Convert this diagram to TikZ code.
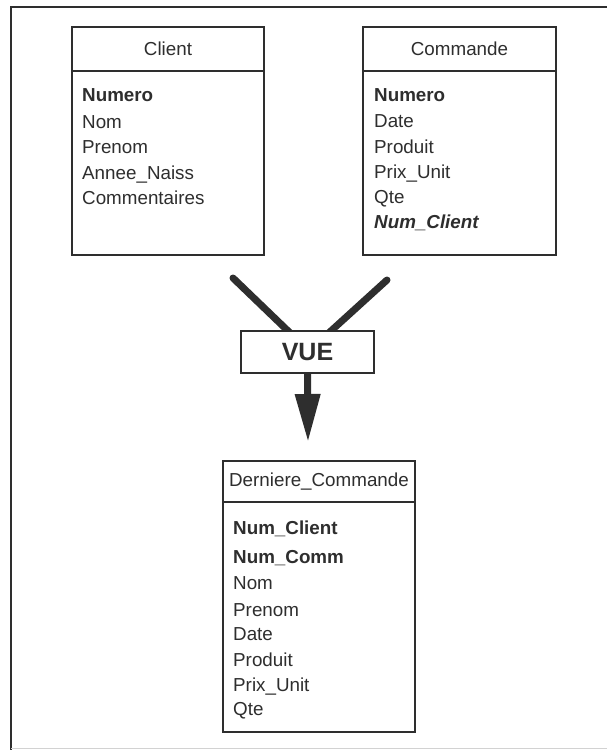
\documentclass[tikz,border=0pt]{standalone}
\usepackage{fontspec}
\setmainfont{Liberation Sans}
\usetikzlibrary{arrows.meta,calc}
\pgfdeclarelayer{background}
\pgfsetlayers{background,main}
\definecolor{ink}{gray}{0.18}
\begin{document}
\begin{tikzpicture}[x=1pt,y=-1pt,
  tbl/.style={draw=ink, line width=1.5pt, fill=white, inner sep=0pt},
  sep/.style={draw=ink, line width=1.3pt},
  head/.style={font=\fontsize{18.8}{20}\selectfont, text=ink, inner sep=0pt},
  field/.style={font=\fontsize{18.8}{20}\selectfont, text=ink, inner sep=0pt, anchor=base west},
  vuebox/.style={draw=ink, line width=1.5pt, fill=white, minimum width=133pt, minimum height=42pt, inner sep=0pt,
    font=\bfseries\fontsize{25}{27}\selectfont, text=ink},
  feed/.style={draw=ink, line width=7pt, line cap=round},
  flow/.style={draw=ink, line width=7pt, -{Triangle[length=48pt,width=24pt]}}]
\useasboundingbox (0,0) rectangle (607,750);

% outer frame
\draw[ink, line width=1.8pt] (11,752) -- (11,7) -- (609,7);
\draw[gray!35, line width=1pt] (11,748) -- (609,748);

% table Client
\node[tbl, minimum width=192pt, minimum height=228pt] (client) at (168,141) {};
\draw[sep] (client.west |- 0,71) -- (client.east |- 0,71);
\node[head] (clientT) at (168,49) {Client};
\node[field] (c1) at (82,101) {\textbf{Numero}};
\node[field] (c2) at (82,128) {Nom};
\node[field] (c3) at (82,153) {Prenom};
\node[field] (c4) at (82,179) {Annee\_Naiss};
\node[field] (c5) at (82,204) {Commentaires};

% table Commande
\node[tbl, minimum width=193pt, minimum height=228pt] (cmd) at (459.5,141) {};
\draw[sep] (cmd.west |- 0,71) -- (cmd.east |- 0,71);
\node[head] (cmdT) at (459.5,49) {Commande};
\node[field] (m1) at (374,101) {\textbf{Numero}};
\node[field] (m2) at (374,127) {Date};
\node[field] (m3) at (374,153) {Produit};
\node[field] (m4) at (374,178) {Prix\_Unit};
\node[field] (m5) at (374,203) {Qte};
\node[field] (m6) at (374,228) {\textbf{\itshape Num\_Client}};

% the view
\node[vuebox] (vue) at (307.5,352) {VUE};
\coordinate (inL) at (233,278);
\coordinate (inR) at (387,280);
\coordinate (out) at (308,442);
\begin{pgfonlayer}{background}
\fill[white] (0,0) rectangle (607,750);
\draw[feed, shorten >=-8pt] (inL) -- ($(vue.north west)!0.35!(vue.north east)$);
\draw[feed, shorten >=-8pt] (inR) -- ($(vue.north west)!0.68!(vue.north east)$);
\end{pgfonlayer}
\draw[flow] (vue.south) -- (out);

% table Derniere_Commande
\node[tbl, minimum width=192pt, minimum height=271pt] (last) at (319,596.5) {};
\draw[sep] (last.west |- 0,502) -- (last.east |- 0,502);
\node[head] (lastT) at (319,482) {Derniere\_Commande};
\node[field] (d1) at (233,534) {\textbf{Num\_Client}};
\node[field] (d2) at (233,563) {\textbf{Num\_Comm}};
\node[field] (d3) at (233,589) {Nom};
\node[field] (d4) at (233,616) {Prenom};
\node[field] (d5) at (233,640) {Date};
\node[field] (d6) at (233,666) {Produit};
\node[field] (d7) at (233,691) {Prix\_Unit};
\node[field] (d8) at (233,715) {Qte};
\end{tikzpicture}
\end{document}
